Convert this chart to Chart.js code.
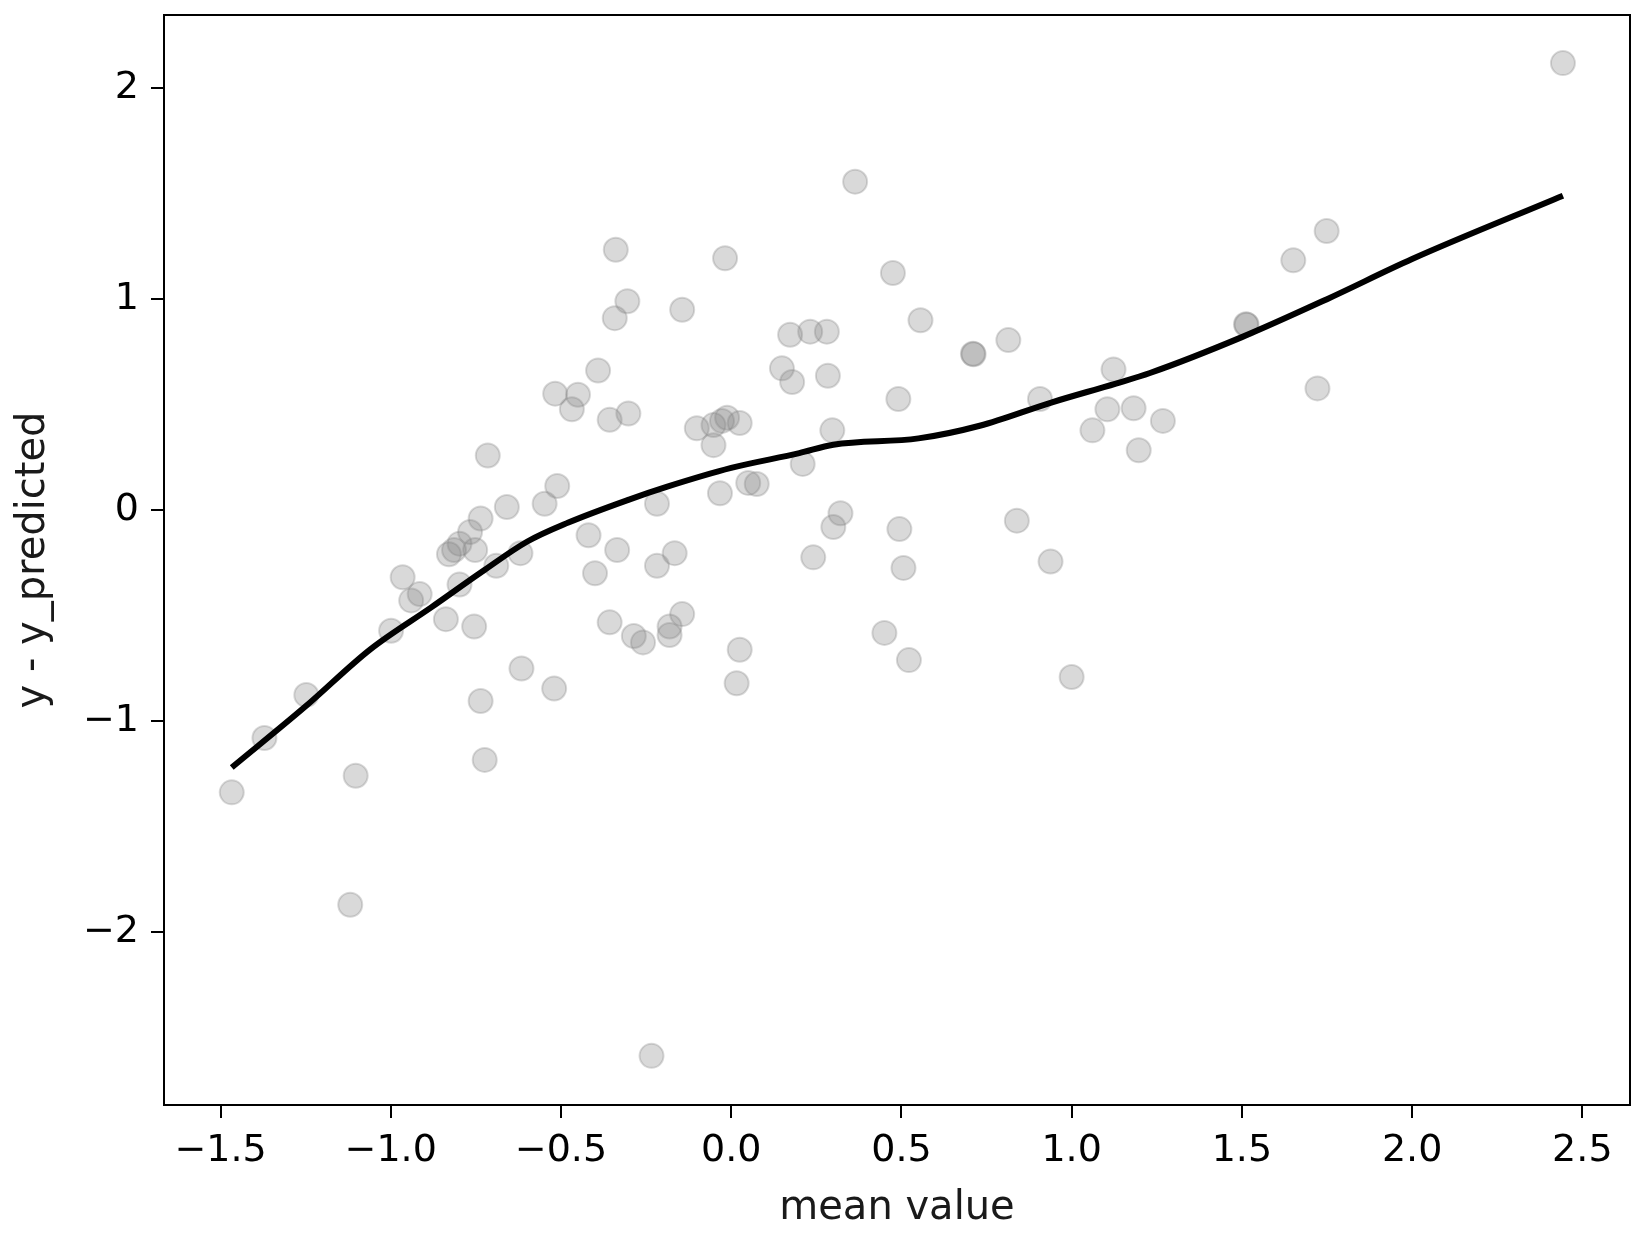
<!DOCTYPE html>
<html>
<head>
<meta charset="utf-8">
<script src="https://cdn.jsdelivr.net/npm/chart.js@4.4.1/dist/chart.umd.min.js"></script>
<style>
  html, body { margin: 0; padding: 0; background: #fff; }
  canvas { display: block; }
</style>
</head>
<body>
<canvas id="residualChart" width="1645" height="1244"></canvas>
<script>
// residual points (mean value, y - y_predicted)
const meanValues = [
    -1.467, -1.371, -1.248, -1.103, -1.119, -0.999, -0.965, -0.940, -0.915, -0.838,
    -0.829, -0.814, -0.798, -0.798, -0.755, -0.767, -0.736, -0.752, -0.715, -0.736,
    -0.724, -0.690, -0.659, -0.619, -0.616, -0.548, -0.517, -0.511, -0.520, -0.468,
    -0.450, -0.419, -0.400, -0.391, -0.357, -0.357, -0.339, -0.335, -0.342, -0.305,
    -0.302, -0.286, -0.259, -0.234, -0.218, -0.218, -0.181, -0.166, -0.181, -0.144,
    -0.144, -0.101, -0.052, -0.052, -0.018, -0.012, -0.027, -0.033, 0.016, 0.025,
    0.025, 0.050, 0.075, 0.149, 0.173, 0.179, 0.210, 0.232, 0.241, 0.281,
    0.284, 0.297, 0.300, 0.321, 0.364, 0.450, 0.475, 0.491, 0.494, 0.506,
    0.522, 0.556, 0.710, 0.712, 0.814, 0.839, 0.907, 0.938, 1.000, 1.061,
    1.105, 1.123, 1.182, 1.197, 1.268, 1.512, 1.514, 1.651, 1.722, 1.749,
    2.443
];
const residuals = [
    -1.338, -1.080, -0.876, -1.259, -1.871, -0.572, -0.318, -0.428, -0.398, -0.517,
    -0.209, -0.189, -0.159, -0.353, -0.552, -0.104, -0.040, -0.189, 0.259, -0.905,
    -1.184, -0.264, 0.015, -0.204, -0.751, 0.030, 0.552, 0.114, -0.846, 0.478,
    0.547, -0.119, -0.299, 0.662, 0.428, -0.532, 1.234, -0.189, 0.910, 0.990,
    0.458, -0.597, -0.627, -2.587, 0.030, -0.264, -0.552, -0.204, -0.592, -0.493,
    0.950, 0.388, 0.308, 0.403, 1.194, 0.438, 0.423, 0.080, -0.821, -0.662,
    0.413, 0.129, 0.124, 0.672, 0.831, 0.607, 0.219, 0.846, -0.224, 0.846,
    0.637, 0.378, -0.080, -0.015, 1.557, -0.582, 1.124, 0.527, -0.090, -0.274,
    -0.711, 0.900, 0.741, 0.739, 0.806, -0.050, 0.527, -0.244, -0.791, 0.378,
    0.478, 0.667, 0.483, 0.284, 0.423, 0.881, 0.879, 1.184, 0.577, 1.323,
    2.119
];

// smoothed trend line
const trendX = [-1.467, -1.25, -1.06, -0.88, -0.73, -0.60, -0.48, -0.30, -0.19, 0.0,
    0.20, 0.30, 0.55, 0.73, 0.94, 1.13, 1.23, 1.50, 1.75, 2.0, 2.443];
const trendY = [-1.22, -0.93, -0.66, -0.46, -0.29, -0.15, -0.06, 0.05, 0.11, 0.20,
    0.27, 0.31, 0.34, 0.40, 0.51, 0.60, 0.65, 0.82, 1.00, 1.19, 1.49];

const xTicks = [-1.5, -1.0, -0.5, 0.0, 0.5, 1.0, 1.5, 2.0, 2.5];
const yTicks = [-2, -1, 0, 1, 2];

const minus = s => s.replace('-', '\u2212');

// matplotlib-like frame round the plot area
const frame = {
    id: 'frame',
    afterDraw(chart) {
        const { ctx, chartArea: a } = chart;
        ctx.save();
        ctx.strokeStyle = '#000';
        ctx.lineWidth = 2;
        ctx.strokeRect(a.left, a.top, a.right - a.left, a.bottom - a.top);
        ctx.restore();
    }
};

Chart.defaults.font.family = '"DejaVu Sans", sans-serif';
Chart.defaults.color = '#000';

const ctx = document.getElementById('residualChart').getContext('2d');
new Chart(ctx, {
    type: 'scatter',
    data: {
        datasets: [
            {
                type: 'line',
                data: trendX.map((x, i) => ({ x: x, y: trendY[i] })),
                borderColor: '#000',
                borderWidth: 6,
                pointRadius: 0,
                cubicInterpolationMode: 'monotone',
                fill: false,
                order: 0
            },
            {
                data: meanValues.map((x, i) => ({ x: x, y: residuals[i] })),
                backgroundColor: 'rgba(128,128,128,0.3)',
                borderColor: 'rgba(128,128,128,0.3)',
                borderWidth: 2,
                pointRadius: 12,
                order: 1
            }
        ]
    },
    options: {
        responsive: false,
        animation: false,
        devicePixelRatio: 1,
        layout: { padding: { top: 15, right: 15, left: 0, bottom: 0 } },
        plugins: {
            legend: { display: false },
            tooltip: { enabled: false }
        },
        scales: {
            x: {
                type: 'linear',
                min: -1.666,
                max: 2.640,
                afterFit: s => { s.height = 139; s.paddingLeft = 0; s.paddingRight = 0; },
                afterBuildTicks: s => { s.ticks = xTicks.map(v => ({ value: v })); },
                ticks: {
                    font: { size: 38 },
                    padding: 10,
                    maxRotation: 0,
                    callback: v => minus(v.toFixed(1))
                },
                grid: { drawOnChartArea: false, drawTicks: true, tickLength: 13, color: '#000', lineWidth: 2 },
                border: { display: true, color: '#000', width: 2 },
                title: {
                    display: true,
                    text: 'mean value',
                    font: { size: 40 },
                    color: '#1a1a1a',
                    padding: { top: 0, bottom: 11 }
                }
            },
            y: {
                type: 'linear',
                min: -2.82,
                max: 2.347,
                afterFit: s => { s.width = 164; s.paddingTop = 0; s.paddingBottom = 0; },
                afterBuildTicks: s => { s.ticks = yTicks.map(v => ({ value: v })); },
                ticks: {
                    font: { size: 38 },
                    padding: 12,
                    callback: v => minus(String(v))
                },
                grid: { drawOnChartArea: false, drawTicks: true, tickLength: 13, color: '#000', lineWidth: 2 },
                border: { display: true, color: '#000', width: 2 },
                title: {
                    display: true,
                    text: 'y - y_predicted',
                    font: { size: 40 },
                    color: '#1a1a1a',
                    padding: { top: 10, bottom: 0 }
                }
            }
        }
    },
    plugins: [frame]
});
</script>
</body>
</html>
